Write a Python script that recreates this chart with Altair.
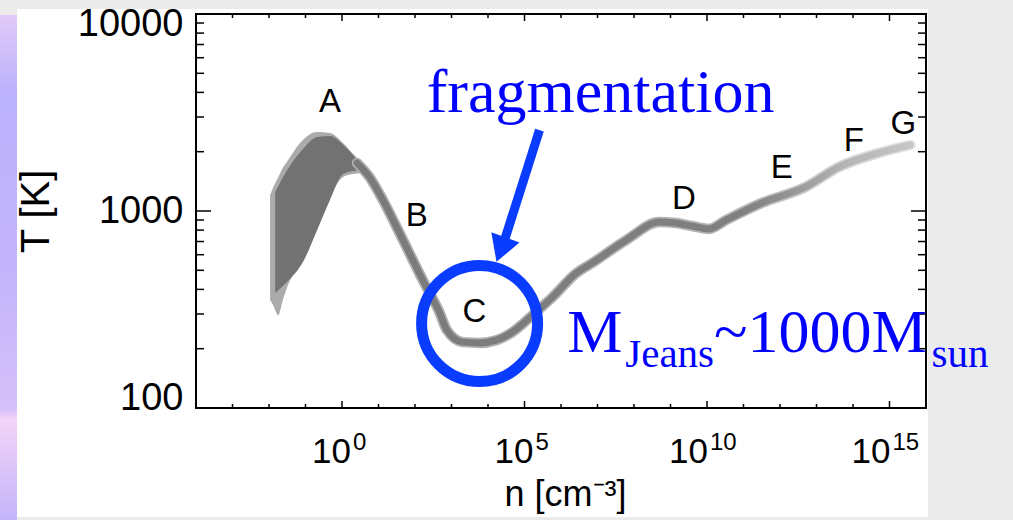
import altair as alt
import numpy as np
import pandas as pd

W, H = 730, 394

# main temperature track (log10 n [cm^-3], T [K])
track_logn = [0.41, 0.77, 1.12, 1.67, 2.21, 2.68, 2.87, 3.31, 3.77, 4.23, 4.67, 5.22,
              5.77, 6.42, 6.86, 7.79, 8.69, 9.15, 9.59, 10.05, 10.52, 11.50, 12.70, 13.61,
              14.70, 15.57]
track_T = [1754, 1472, 1138, 713, 447, 303, 249, 216, 214, 221, 243, 296,
           366, 484, 545, 713, 879, 869, 839, 811, 899, 1099, 1324, 1671,
           1968, 2163]

# spread of the many tracks at low density (outer envelope)
fan_logn = [-1.97, -1.88, -1.75, -1.61, -1.50, -1.15, -0.68, -0.33, 0.03, 0.30, 0.63]
fan_upper = [1205, 1324, 1480, 1671, 1786, 2213, 2518, 2489, 2213, 1954, 1690]
fan_lower = [353, 330, 296, 360, 411, 547, 830, 1178, 1489, 1540, 1560]

# dense core of the spread
core_logn = [-1.83, -1.50, -1.07, -0.68, -0.33, 0.03, 0.35, 0.55]
core_upper = [1247, 1614, 2065, 2377, 2400, 2170, 1880, 1720]
core_lower = [384, 437, 551, 802, 1138, 1540, 1600, 1610]

# phase labels
phase_labels = ["A", "B", "C", "D", "E", "F", "G"]
phase_logn = [-0.33, 2.05, 3.63, 9.37, 12.05, 14.02, 15.38]
phase_T = [3573, 944, 307, 1151, 1652, 2265, 2767]

# axis ticks
x_major_exp = [0, 5, 10, 15]
x_minor_exp = [-3, -2, -1, 1, 2, 3, 4, 6, 7, 8, 9, 11, 12, 13, 14]
y_major = [100, 1000, 10000]
y_minor = [200, 300, 400, 500, 600, 700, 800, 900,
           2000, 3000, 4000, 5000, 6000, 7000, 8000, 9000]

# annotations
circle_logn, circle_T = [3.77], [268.5]
arrow_tail_logn, arrow_tail_T = [5.41], [2576]
arrow_end_logn, arrow_end_T = [4.43], [689]
arrow_head_logn, arrow_head_T = [4.355], [637]
ann_texts = ["fragmentation", "M", "Jeans", "~1000M", "sun"]
ann_logn = [2.32, 6.17, 7.76, 10.19, 16.15]
ann_T = [3184, 192, 161.6, 192, 161.6]
ann_size = [62, 62, 41, 62, 41]

BLUE_T = "#0000ff"
BLUE = "#0a3cff"
SANS = "Liberation Sans"
SERIF = "Liberation Serif"

xs = alt.Scale(type="log", domain=[1e-4, 1e16], nice=False)
ys = alt.Scale(type="log", domain=[100, 10000], nice=False)

xaxis = alt.Axis(values=[10.0 ** e for e in x_major_exp], labels=False,
                 ticks=False, domain=False, grid=False, zindex=1,
                 title="n [cm\u207b\u00b3]", titleFont=SANS, titleFontSize=36,
                 titleFontWeight="normal", titleColor="black",
                 titleX=369, titleY=97, titleBaseline="alphabetic", titleAlign="center")
yaxis = alt.Axis(values=y_major, format="d", ticks=False, domain=False, grid=False, zindex=1,
                 labelFlush=True, labelFlushOffset=9, labelFont=SANS, labelFontSize=38,
                 labelColor="black", labelPadding=13,
                 title="T [K]", titleFont=SANS, titleFontSize=40, titleFontWeight="normal",
                 titleColor="black", titleX=-160, titleY=197, titleAngle=270,
                 titleBaseline="middle", titleAlign="center")


def X(field="n"):
    return alt.X(f"{field}:Q", scale=xs, axis=xaxis)


def Y(field="T"):
    return alt.Y(f"{field}:Q", scale=ys, axis=yaxis)


dummy = pd.DataFrame({"a": [0]})

bg_white = alt.Chart(dummy).mark_rect(color="white").encode(
    x=alt.value(-179), x2=alt.value(732), y=alt.value(-5), y2=alt.value(503))
purple = alt.Chart(dummy).mark_rect(
    color=alt.Gradient(gradient="linear",
                       stops=[alt.GradientStop(offset=0, color="#e2caf8"),
                              alt.GradientStop(offset=0.15, color="#bcb2fc"),
                              alt.GradientStop(offset=0.5, color="#c2b4fb"),
                              alt.GradientStop(offset=0.78, color="#d6c0fa"),
                              alt.GradientStop(offset=0.8, color="#f2d4f8"),
                              alt.GradientStop(offset=1, color="#c4b4fa")],
                       x1=0, x2=0, y1=0, y2=1)
).encode(x=alt.value(-196), x2=alt.value(-179), y=alt.value(1), y2=alt.value(506))

fan = pd.DataFrame({"n": [10.0 ** v for v in fan_logn], "upper": fan_upper, "lower": fan_lower})
core = pd.DataFrame({"n": [10.0 ** v for v in core_logn], "upper": core_upper, "lower": core_lower})
track = pd.DataFrame({"n": [10.0 ** v for v in track_logn], "T": track_T})
phases = pd.DataFrame({"n": [10.0 ** v for v in phase_logn], "T": phase_T, "label": phase_labels})

fan_layer = alt.Chart(fan).mark_area(color="#ababab", interpolate="monotone").encode(
    x=X(), y=Y("upper"), y2="lower:Q")
core_layer = alt.Chart(core).mark_area(color="#727272", interpolate="monotone").encode(
    x=X(), y=Y("upper"), y2="lower:Q")

grad_halo = alt.Gradient(gradient="linear",
                         stops=[alt.GradientStop(offset=0, color="#b0b0b0"),
                                alt.GradientStop(offset=0.7, color="#b4b4b4"),
                                alt.GradientStop(offset=0.85, color="#d0d0d0"),
                                alt.GradientStop(offset=1, color="#e2e2e2")],
                         x1=0, x2=1, y1=0, y2=0)
grad_line = alt.Gradient(gradient="linear",
                         stops=[alt.GradientStop(offset=0, color="#7a7a7a"),
                                alt.GradientStop(offset=0.7, color="#808080"),
                                alt.GradientStop(offset=0.8, color="#9a9a9a"),
                                alt.GradientStop(offset=0.88, color="#b4b4b4"),
                                alt.GradientStop(offset=1, color="#c6c6c6")],
                         x1=0, x2=1, y1=0, y2=0)

halo_layer = alt.Chart(track).mark_line(color=grad_halo, strokeWidth=10.5, strokeCap="round",
                                        strokeJoin="round", interpolate="monotone").encode(
    x=X(), y=Y())
line_layer = alt.Chart(track).mark_line(color=grad_line, strokeWidth=7, strokeCap="round",
                                        strokeJoin="round", interpolate="monotone").encode(
    x=X(), y=Y())

phase_layer = alt.Chart(phases).mark_text(font=SANS, fontSize=33, color="black",
                                          align="center", baseline="middle").encode(
    x=X(), y=Y(), text="label:N")

frame = alt.Chart(dummy).mark_rect(filled=False, stroke="black", strokeWidth=2).encode(
    x=alt.value(0), x2=alt.value(W), y=alt.value(0), y2=alt.value(H))

xmaj = pd.DataFrame({"n": [10.0 ** e for e in x_major_exp]})
xmin = pd.DataFrame({"n": [10.0 ** e for e in x_minor_exp]})
ymaj = pd.DataFrame({"T": y_major})
ymin = pd.DataFrame({"T": y_minor})


def xticks(df, y0, y1):
    return alt.Chart(df).mark_rule(color="black", strokeWidth=1.5).encode(
        x=X(), y=alt.value(y0), y2=alt.value(y1))


def yticks(df, x0, x1):
    return alt.Chart(df).mark_rule(color="black", strokeWidth=1.5).encode(
        y=Y(), x=alt.value(x0), x2=alt.value(x1))


tick_layers = [xticks(xmaj, H, H - 7), xticks(xmaj, 0, 7),
               xticks(xmin, H, H - 4), xticks(xmin, 0, 4),
               yticks(ymaj, 0, 15), yticks(ymaj, W, W - 15),
               yticks(ymin, 0, 8), yticks(ymin, W, W - 8)]

# x tick labels: "10" with a raised exponent
xlab = pd.DataFrame({"n": [10.0 ** e for e in x_major_exp],
                     "base": ["10"] * len(x_major_exp),
                     "exp": [str(e) for e in x_major_exp],
                     "nd": [len(str(e)) for e in x_major_exp]})


def xlabel_layer(nd, base_dx, exp_dx):
    src = alt.Chart(xlab).transform_filter(alt.datum.nd == nd)
    base = src.mark_text(font=SANS, fontSize=35, color="black", align="right",
                         baseline="alphabetic", dx=base_dx).encode(
        x=X(), y=alt.value(H + 55), text="base:N")
    sup = src.mark_text(font=SANS, fontSize=24, color="black", align="left",
                        baseline="alphabetic", dx=exp_dx).encode(
        x=X(), y=alt.value(H + 42), text="exp:N")
    return [base, sup]


xlabel_layers = xlabel_layer(1, 9, 11) + xlabel_layer(2, 1, 3)

circ = pd.DataFrame({"n": [10.0 ** v for v in circle_logn], "T": circle_T})
circle_layer = alt.Chart(circ).mark_point(shape="circle", size=13456, filled=False,
                                          strokeWidth=11, color=BLUE, opacity=1).encode(
    x=X(), y=Y())

shaft = pd.DataFrame({"n": [10.0 ** v for v in arrow_tail_logn], "T": arrow_tail_T,
                      "n2": [10.0 ** v for v in arrow_end_logn], "T2": arrow_end_T})
shaft_layer = alt.Chart(shaft).mark_rule(color=BLUE, strokeWidth=9).encode(
    x=X(), y=Y(), x2="n2:Q", y2="T2:Q")
head = pd.DataFrame({"n": [10.0 ** v for v in arrow_head_logn], "T": arrow_head_T})
head_layer = alt.Chart(head).mark_point(shape="triangle-down", size=900, filled=True,
                                        angle=20, color=BLUE, opacity=1).encode(
    x=X(), y=Y())

ann = pd.DataFrame({"n": [10.0 ** v for v in ann_logn], "T": ann_T, "text": ann_texts})
ann_layers = []
for i in range(len(ann_texts)):
    ann_layers.append(
        alt.Chart(ann.iloc[[i]]).mark_text(font=SERIF, fontSize=ann_size[i], color=BLUE_T,
                                           align="left", baseline="alphabetic").encode(
            x=X(), y=Y(), text="text:N"))

chart = alt.layer(
    bg_white, purple, fan_layer, core_layer, halo_layer, line_layer, phase_layer,
    frame, *tick_layers, *xlabel_layers, circle_layer, shaft_layer, head_layer, *ann_layers
).properties(
    width=W, height=H,
    autosize=alt.AutoSizeParams(type="none"),
    padding={"left": 196, "top": 14, "right": 1013 - 196 - W, "bottom": 520 - 14 - H},
    background="#ebebeb"
).configure_view(stroke=None)

chart.save("out.html", embed_options={"renderer": "svg", "actions": False})
